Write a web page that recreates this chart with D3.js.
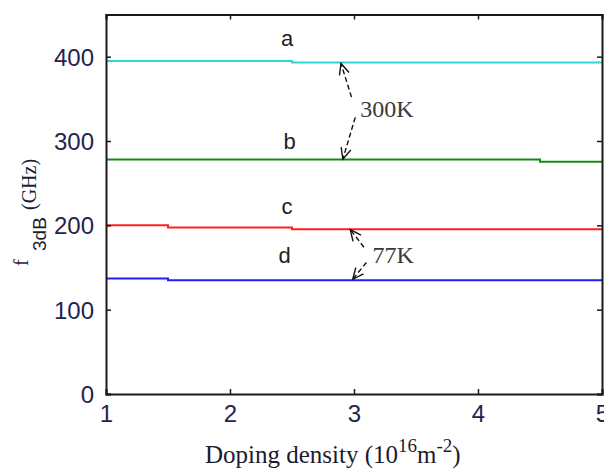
<!DOCTYPE html>
<html>
<head>
<meta charset="utf-8">
<script src="https://cdn.jsdelivr.net/npm/d3@7"></script>
<style>
  body { margin: 0; background: #fff; }
  svg { display: block; }
</style>
</head>
<body>
<script>
"use strict";

// doping density (10^16 m^-2) where each curve changes level, and f3dB (GHz)
const dopingA = [1, 2.5, 5];
const f3dbA   = [395, 393, 393];
const dopingB = [1, 4.5, 5];
const f3dbB   = [278, 275.5, 275.5];
const dopingC = [1, 1.5, 2.5, 5];
const f3dbC   = [200, 197.5, 195.5, 195.5];
const dopingD = [1, 1.5, 5];
const f3dbD   = [137, 135, 135];

const curveNames = ["a", "b", "c", "d"];
const xTicks = [1, 2, 3, 4, 5];
const yTicks = [0, 100, 200, 300, 400];

const width = 604, height = 470;
const margin = { top: 14.5, right: 2, bottom: 76, left: 106 };
const colors = { a: "#2fd6d6", b: "#138a13", c: "#ff2020", d: "#1e1eff" };

const svg = d3.select("body").append("svg")
    .attr("width", width)
    .attr("height", height);

const x = d3.scaleLinear().domain([1, 5])
    .range([margin.left, width - margin.right]);
const y = d3.scaleLinear().domain([0, 450])
    .range([height - margin.bottom, margin.top]);

const series = [
    { name: "a", xs: dopingA, ys: f3dbA },
    { name: "b", xs: dopingB, ys: f3dbB },
    { name: "c", xs: dopingC, ys: f3dbC },
    { name: "d", xs: dopingD, ys: f3dbD }
];

const line = d3.line()
    .x(d => x(d[0]))
    .y(d => y(d[1]))
    .curve(d3.curveStepAfter);

svg.append("g")
    .selectAll("path")
    .data(series)
    .join("path")
    .attr("fill", "none")
    .attr("stroke", d => colors[d.name])
    .attr("stroke-width", 2)
    .attr("d", d => line(d.xs.map((v, i) => [v, d.ys[i]])));

// axes: ticks point inward, mirrored on top / right
const tickCol = "#1a1a1a";
const labCol = "#23234f";
const axBottom = svg.append("g")
    .attr("transform", `translate(0,${y(0)})`)
    .call(d3.axisBottom(x).tickValues(xTicks).tickSize(-5).tickPadding(14)
        .tickFormat(d3.format("d")));
const axTop = svg.append("g")
    .attr("transform", `translate(0,${y(450)})`)
    .call(d3.axisTop(x).tickValues(xTicks).tickSize(-5).tickFormat(""));
const axLeft = svg.append("g")
    .attr("transform", `translate(${x(1)},0)`)
    .call(d3.axisLeft(y).tickValues(yTicks).tickSize(-5).tickPadding(12)
        .tickFormat(d3.format("d")));
const axRight = svg.append("g")
    .attr("transform", `translate(${x(5)},0)`)
    .call(d3.axisRight(y).tickValues(yTicks).tickSize(-5).tickFormat(""));

[axBottom, axTop, axLeft, axRight].forEach(g => {
    g.select(".domain").attr("stroke", tickCol).attr("stroke-width", 2);
    g.selectAll(".tick line").attr("stroke", tickCol).attr("stroke-width", 1.5);
    g.selectAll(".tick text")
        .attr("fill", labCol)
        .attr("font-family", "Arial, 'Liberation Sans', sans-serif")
        .attr("font-size", 24);
});
axBottom.selectAll(".tick text").attr("dy", "0.6em");
axLeft.selectAll(".tick text").attr("dy", "0.36em");

// curve labels
const labelPos = { a: [2.46, 413], b: [2.48, 291], c: [2.46, 214], d: [2.44, 155] };
svg.append("g")
    .selectAll("text")
    .data(curveNames)
    .join("text")
    .attr("x", d => x(labelPos[d][0]))
    .attr("y", d => y(labelPos[d][1]))
    .attr("text-anchor", "middle")
    .attr("font-family", "Arial, 'Liberation Sans', sans-serif")
    .attr("font-size", 22)
    .attr("fill", "#222")
    .text(d => d);

// temperature annotations with arrows
svg.append("defs").append("marker")
    .attr("id", "head")
    .attr("viewBox", "-12 -7 14 14")
    .attr("refX", 0).attr("refY", 0)
    .attr("markerWidth", 14).attr("markerHeight", 14)
    .attr("markerUnits", "userSpaceOnUse")
    .attr("orient", "auto")
    .append("path")
    .attr("d", "M-11,-5L0,0L-11,5")
    .attr("fill", "none")
    .attr("stroke", "#111")
    .attr("stroke-width", 1.4);

const arrows = [
    { from: [2.98, 352], to: [2.895, 392] },
    { from: [3.01, 328], to: [2.91, 278.5] },
    { from: [3.08, 174], to: [2.97, 195] },
    { from: [3.10, 156], to: [2.99, 136] }
];
svg.append("g")
    .selectAll("line")
    .data(arrows)
    .join("line")
    .attr("x1", d => x(d.from[0])).attr("y1", d => y(d.from[1]))
    .attr("x2", d => x(d.to[0])).attr("y2", d => y(d.to[1]))
    .attr("stroke", "#111")
    .attr("stroke-width", 1.4)
    .attr("stroke-dasharray", "5,3")
    .attr("marker-end", "url(#head)");

const tempLabels = [
    { text: "300K", pos: [3.05, 328.5] },
    { text: "77K", pos: [3.15, 155] }
];
svg.append("g")
    .selectAll("text")
    .data(tempLabels)
    .join("text")
    .attr("x", d => x(d.pos[0]))
    .attr("y", d => y(d.pos[1]))
    .attr("font-family", "'Times New Roman', 'Liberation Serif', serif")
    .attr("font-size", 24)
    .attr("fill", "#3a3a3a")
    .text(d => d.text);

// axis titles
const xt = svg.append("text")
    .attr("x", 205)
    .attr("y", 463)
    .attr("font-family", "'Times New Roman', 'Liberation Serif', serif")
    .attr("font-size", 25)
    .attr("fill", "#1c1c30");
xt.append("tspan").text("Doping density (10");
xt.append("tspan").attr("dy", -11).attr("font-size", 19).text("16");
xt.append("tspan").attr("dy", 11).text("m");
xt.append("tspan").attr("dy", -11).attr("font-size", 19).text("-2");
xt.append("tspan").attr("dy", 11).text(")");

const yt = svg.append("text")
    .attr("transform", "translate(28,266) rotate(-90)")
    .attr("fill", "#1c1c30")
    .attr("font-size", 20);
yt.append("tspan")
    .attr("x", 0).attr("y", 0)
    .attr("font-family", "'Times New Roman', 'Liberation Serif', serif")
    .text("f");
yt.append("tspan")
    .attr("x", 15).attr("y", 18)
    .attr("font-size", 19)
    .attr("font-family", "Arial, 'Liberation Sans', sans-serif")
    .text("3dB");
yt.append("tspan")
    .attr("x", 56).attr("y", 8)
    .attr("font-family", "'Times New Roman', 'Liberation Serif', serif")
    .text("(GHz)");
</script>
</body>
</html>
